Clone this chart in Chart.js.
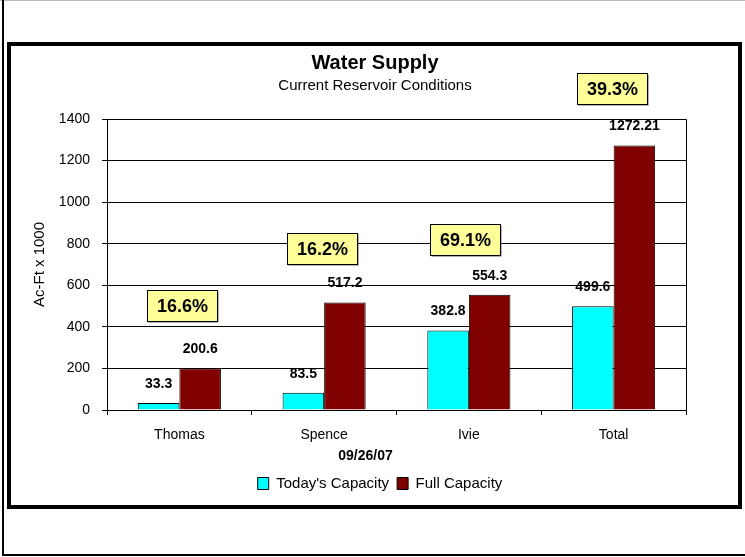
<!DOCTYPE html>
<html>
<head>
<meta charset="utf-8">
<script src="https://cdn.jsdelivr.net/npm/chart.js@4"></script>
<style>
  html, body { margin: 0; padding: 0; background: #fff; }
  #wrap { width: 745px; height: 557px; }
</style>
</head>
<body>
<div id="wrap"><canvas id="myChart" width="745" height="557"></canvas></div>
<script>
  // data
  const reservoirs = ["Thomas", "Spence", "Ivie", "Total"];
  const todayCapacity = [33.3, 83.5, 382.8, 499.6];
  const fullCapacity = [200.6, 517.2, 554.3, 1272.21];
  const percentFull = ["16.6%", "16.2%", "69.1%", "39.3%"];
  const yTicks = [0, 200, 400, 600, 800, 1000, 1200, 1400];
  const dateLabel = "09/26/07";

  // where the yellow percent boxes sit (y in axis units, x shift in px)
  const boxLevel = [505, 775, 820, 1547];
  const boxShift = [3, -2, -4, -2];

  const FONT = "'Liberation Sans', Arial, sans-serif";

  // frames round the whole picture, labels and boxes
  const framePlugin = {
    id: "frames",
    afterLayout(chart) {
      // legend sits a little right of the title in the original
      chart.legend.left += 5;
      chart.legend.right += 5;
    },
    beforeDraw(chart) {
      const ctx = chart.ctx;
      ctx.save();
      ctx.fillStyle = "#fff";
      ctx.fillRect(0, 0, chart.width, chart.height);
      ctx.fillStyle = "#bbb";
      ctx.fillRect(0, 0, 745, 1);
      ctx.fillStyle = "#000";
      ctx.fillRect(2, 0, 2, 556);
      ctx.fillRect(2, 554, 743, 2);
      ctx.strokeStyle = "#000";
      ctx.lineWidth = 4;
      ctx.strokeRect(9, 44, 731, 463);
      ctx.restore();
    },
    afterDatasetsDraw(chart) {
      const ctx = chart.ctx;
      const a = chart.chartArea;
      ctx.save();
      // plot border (top + right)
      ctx.strokeStyle = "#000";
      ctx.lineWidth = 1;
      ctx.beginPath();
      ctx.moveTo(a.left, a.top + 0.5);
      ctx.lineTo(a.right + 0.5, a.top + 0.5);
      ctx.lineTo(a.right + 0.5, a.bottom);
      ctx.stroke();

      // value labels above bars
      ctx.fillStyle = "#000";
      ctx.font = "bold 14px " + FONT;
      ctx.textAlign = "center";
      ctx.textBaseline = "middle";
      chart.data.datasets.forEach((ds, i) => {
        chart.getDatasetMeta(i).data.forEach((bar, j) => {
          ctx.fillText(String(ds.data[j]), bar.x, bar.y - 19);
        });
      });

      // date under the axis
      ctx.fillText(dateLabel, chart.width / 2 - 7, a.bottom + 46);

      // yellow percent boxes
      const xs = chart.scales.x, ys = chart.scales.y;
      ctx.font = "bold 18px " + FONT;
      percentFull.forEach((txt, i) => {
        const cx = xs.getPixelForValue(i) + boxShift[i];
        const cy = ys.getPixelForValue(boxLevel[i]);
        const w = 70, h = 31;
        const x0 = Math.round(cx - w / 2) + 0.5, y0 = Math.round(cy - h / 2) + 0.5;
        ctx.fillStyle = "#666";
        ctx.fillRect(x0 + 1, y0 + 1, w, h);
        ctx.fillStyle = "#ffff99";
        ctx.fillRect(x0, y0, w, h);
        ctx.strokeStyle = "#000";
        ctx.strokeRect(x0, y0, w, h);
        ctx.fillStyle = "#000";
        ctx.fillText(txt, x0 + w / 2, y0 + h / 2 + 1);
      });
      ctx.restore();
    }
  };

  const data = {
    labels: reservoirs,
    datasets: [
      {
        label: "Today's Capacity",
        data: todayCapacity,
        backgroundColor: "#00ffff",
        borderColor: "#000",
        borderWidth: 1,
        barPercentage: 1,
        categoryPercentage: 0.574
      },
      {
        label: "Full Capacity",
        data: fullCapacity,
        backgroundColor: "#800000",
        borderColor: "#000",
        borderWidth: 1,
        barPercentage: 1,
        categoryPercentage: 0.574
      }
    ]
  };

  const config = {
    type: "bar",
    data: data,
    options: {
      responsive: false,
      animation: false,
      layout: { padding: { left: 25, right: 20, top: 47, bottom: 56 } },
      plugins: {
        title: {
          display: true,
          text: "Water Supply",
          color: "#000",
          font: { family: FONT, size: 20, weight: "bold" },
          padding: { top: 4, bottom: 0 }
        },
        subtitle: {
          display: true,
          text: "Current Reservoir Conditions",
          color: "#000",
          font: { family: FONT, size: 15 },
          padding: { top: 2, bottom: 24 }
        },
        legend: {
          position: "bottom",
          labels: {
            color: "#000",
            font: { family: FONT, size: 15 },
            boxWidth: 11,
            boxHeight: 12,
            padding: 8
          }
        },
        tooltip: { enabled: false }
      },
      scales: {
        x: {
          grid: { display: true, drawOnChartArea: false, color: "#000", tickLength: 5 },
          border: { color: "#000" },
          ticks: { color: "#000", font: { family: FONT, size: 14 }, padding: 12 },
          afterFit(scale) { scale.height = 58; }
        },
        y: {
          min: 0,
          max: 1400,
          afterBuildTicks(scale) { scale.ticks = yTicks.map(v => ({ value: v })); },
          grid: { color: "#000", tickLength: 5 },
          border: { color: "#000" },
          ticks: {
            color: "#000",
            font: { family: FONT, size: 14 },
            padding: 12,
            callback: (v) => String(v)
          },
          title: {
            display: true,
            text: "Ac-Ft x 1000",
            color: "#000",
            font: { family: FONT, size: 15 },
            padding: { top: 6, bottom: 0 }
          },
          afterFit(scale) { scale.width = 82; }
        },
        // empty space on the right of the plot
        yRight: {
          position: "right",
          min: 0,
          max: 1400,
          grid: { display: false },
          border: { display: false },
          ticks: { display: false },
          afterFit(scale) { scale.width = 39; }
        }
      }
    },
    plugins: [framePlugin]
  };

  const myChart = new Chart(document.getElementById("myChart"), config);
</script>
</body>
</html>
